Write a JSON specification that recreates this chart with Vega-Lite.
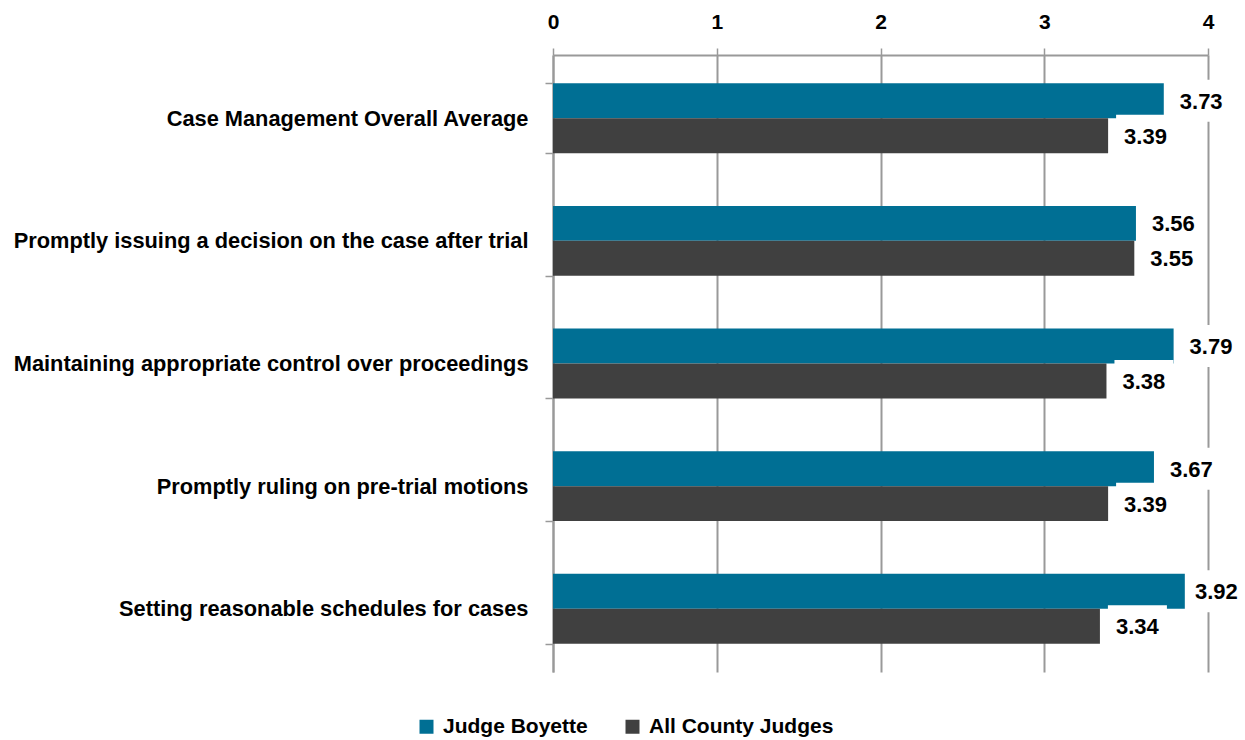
{
  "$schema": "https://vega.github.io/schema/vega-lite/v6.json",
  "autosize": {"type": "none"},
  "width": 655,
  "height": 617,
  "padding": {"left": 553, "top": 55, "right": 37, "bottom": 68},
  "background": "white",
  "config": {
    "font": "Liberation Sans",
    "view": {"stroke": null}
  },
  "data": {
    "values": [
      {"item": "Case Management Overall Average", "series": "Judge Boyette", "value": 3.73},
      {"item": "Case Management Overall Average", "series": "All County Judges", "value": 3.39},
      {"item": "Promptly issuing a decision on the case after trial", "series": "Judge Boyette", "value": 3.56},
      {"item": "Promptly issuing a decision on the case after trial", "series": "All County Judges", "value": 3.55},
      {"item": "Maintaining appropriate control over proceedings", "series": "Judge Boyette", "value": 3.79},
      {"item": "Maintaining appropriate control over proceedings", "series": "All County Judges", "value": 3.38},
      {"item": "Promptly ruling on pre-trial motions", "series": "Judge Boyette", "value": 3.67},
      {"item": "Promptly ruling on pre-trial motions", "series": "All County Judges", "value": 3.39},
      {"item": "Setting reasonable schedules for cases", "series": "Judge Boyette", "value": 3.92},
      {"item": "Setting reasonable schedules for cases", "series": "All County Judges", "value": 3.34}
    ]
  },
  "encoding": {
    "y": {
      "field": "item",
      "type": "nominal",
      "sort": null,
      "scale": {"paddingInner": 0.43, "paddingOuter": 0.23},
      "axis": {
        "title": null,
        "labelFont": "Liberation Sans",
        "labelFontSize": 21.8,
        "labelFontWeight": "bold",
        "labelColor": "#000000",
        "labelLimit": 0,
        "labelPadding": 17,
        "tickBand": "extent",
        "tickSize": 8,
        "tickColor": "#999999",
        "tickWidth": 1.5,
        "domainColor": "#999999",
        "domainWidth": 2
      }
    },
    "yOffset": {
      "field": "series",
      "type": "nominal",
      "sort": ["Judge Boyette", "All County Judges"],
      "scale": {"paddingInner": 0, "paddingOuter": 0}
    },
    "x": {
      "field": "value",
      "type": "quantitative",
      "scale": {"domain": [0, 4], "nice": false},
      "axis": {
        "orient": "top",
        "title": null,
        "values": [0, 1, 2, 3, 4],
        "format": "d",
        "labelFlush": false,
        "labelFont": "Liberation Sans",
        "labelFontSize": 21,
        "labelFontWeight": "bold",
        "labelColor": "#000000",
        "labelPadding": 16,
        "tickSize": 7,
        "tickColor": "#999999",
        "tickWidth": 1.5,
        "grid": true,
        "gridColor": "#999999",
        "gridWidth": 2,
        "domainColor": "#999999",
        "domainWidth": 2
      }
    }
  },
  "layer": [
    {
      "mark": {"type": "bar"},
      "encoding": {
        "color": {
          "field": "series",
          "type": "nominal",
          "scale": {"domain": ["Judge Boyette", "All County Judges"], "range": ["#006F94", "#404040"]},
          "legend": {
            "title": null,
            "orient": "none",
            "direction": "horizontal",
            "legendX": -137,
            "legendY": 661,
            "symbolType": "square",
            "symbolSize": 196,
            "symbolStrokeWidth": 0,
            "labelFont": "Liberation Sans",
            "labelFontSize": 21,
            "labelFontWeight": "bold",
            "labelColor": "#000000",
            "labelLimit": 0,
            "columnPadding": 34,
            "labelOffset": 6
          }
        }
      }
    },
    {
      "transform": [{"filter": "datum.value < 3.9"}],
      "mark": {
        "type": "point",
        "shape": "M0.38,-1H3.19V1H0.38Z",
        "size": 1764,
        "filled": true,
        "fill": "white",
        "opacity": 1,
        "strokeWidth": 0
      },
      "encoding": {}
    },
    {
      "transform": [{"filter": "datum.value >= 3.9"}],
      "mark": {
        "type": "point",
        "shape": "M-0.48,-1H2.24V1H-0.48Z",
        "size": 1764,
        "filled": true,
        "fill": "white",
        "opacity": 1,
        "strokeWidth": 0
      },
      "encoding": {}
    },
    {
      "transform": [{"filter": "datum.value < 3.9"}],
      "mark": {
        "type": "text",
        "align": "left",
        "baseline": "middle",
        "dx": 16,
        "dy": 1,
        "font": "Liberation Sans",
        "fontSize": 22,
        "fontWeight": "bold",
        "color": "#000000"
      },
      "encoding": {
        "text": {"field": "value", "type": "quantitative", "format": ".2f"}
      }
    },
    {
      "transform": [{"filter": "datum.value >= 3.9"}],
      "mark": {
        "type": "text",
        "align": "left",
        "baseline": "middle",
        "dx": 0,
        "dy": 1,
        "font": "Liberation Sans",
        "fontSize": 22,
        "fontWeight": "bold",
        "color": "#000000"
      },
      "encoding": {
        "text": {"field": "value", "type": "quantitative", "format": ".2f"}
      }
    }
  ]
}
